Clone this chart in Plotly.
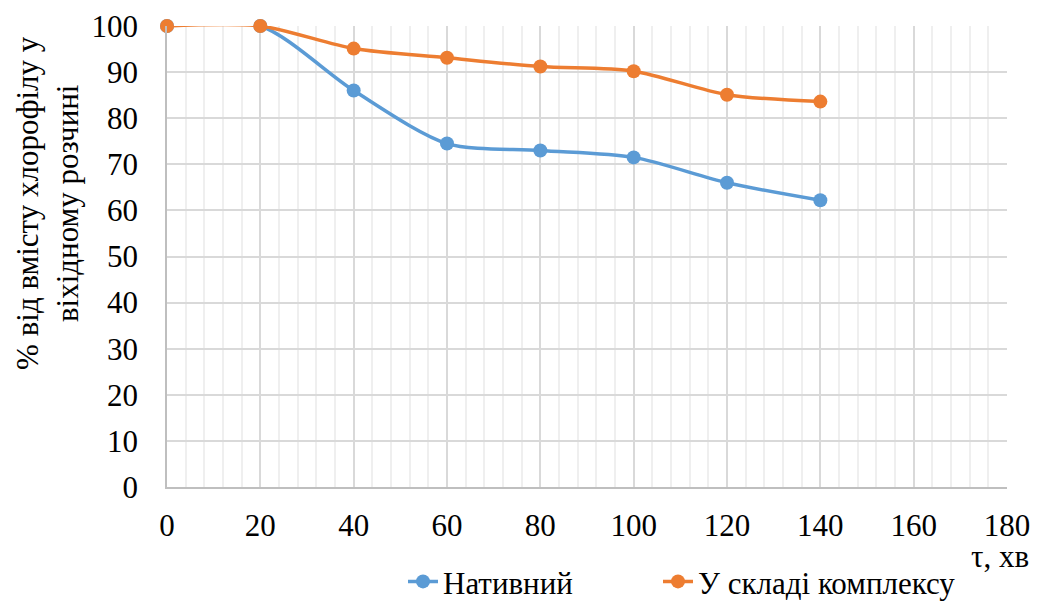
import plotly.graph_objects as go

# Time, minutes
time_min = [0, 20, 40, 60, 80, 100, 120, 140]
# Chlorophyll remaining, % of the initial solution content
native = [100, 100, 86, 74.5, 73, 71.5, 66, 62.2]
in_complex = [100, 100, 95.1, 93.1, 91.2, 90.2, 85.1, 83.6]

series_names = ["Нативний", "У складі комплексу"]
series_colors = ["#5b9bd5", "#ed7d31"]
legend_ids = ["legend", "legend2"]

FONT = "Times New Roman"
FS = 31

fig = go.Figure()
for name, vals, col, lg in zip(series_names, [native, in_complex], series_colors, legend_ids):
    fig.add_trace(go.Scatter(
        x=time_min, y=vals, name=name, mode="lines+markers",
        line=dict(color=col, width=3.5, shape="spline", smoothing=0.8),
        marker=dict(color=col, size=14),
        cliponaxis=False, legend=lg,
    ))

legend_style = dict(orientation="h", xref="container", yref="container",
                    y=0.032, yanchor="middle", xanchor="left",
                    bgcolor="rgba(0,0,0,0)",
                    font=dict(family=FONT, size=FS, color="black"))

fig.update_layout(
    template="none",
    width=1039, height=601,
    margin=dict(l=167, r=32, t=26, b=114, autoexpand=False),
    paper_bgcolor="white", plot_bgcolor="white",
    font=dict(family=FONT, size=FS, color="black"),
    showlegend=True,
    legend=dict(x=403 / 1039, **legend_style),
    legend2=dict(x=658 / 1039, **legend_style),
    xaxis=dict(
        range=[0, 180], dtick=20, tick0=0,
        showgrid=True, gridcolor="#d9d9d9", gridwidth=1.5,
        minor=dict(dtick=4, showgrid=True, gridcolor="#efefef", gridwidth=1.5),
        showline=True, linecolor="#bfbfbf", linewidth=1.5,
        ticks="", ticklabelstandoff=10, zeroline=False,
        tickfont=dict(family=FONT, size=FS, color="black"),
    ),
    yaxis=dict(
        range=[0, 100], dtick=10,
        showgrid=True, gridcolor="#d9d9d9", gridwidth=1.5,
        showline=True, linecolor="#bfbfbf", linewidth=1.5,
        ticks="", ticklabelstandoff=21, zeroline=False,
        tickfont=dict(family=FONT, size=FS, color="black"),
    ),
)

fig.add_annotation(
    text="% від вмісту хлорофілу у<br>віхідному розчині",
    xref="paper", yref="paper", x=-0.143, y=0.616,
    xanchor="center", yanchor="middle", textangle=-90,
    showarrow=False, font=dict(family=FONT, size=FS, color="black"), align="center",
)
fig.add_annotation(
    text="τ, хв", xref="paper", yref="paper", x=1.028, y=-0.1518,
    xanchor="right", yanchor="middle", showarrow=False,
    font=dict(family=FONT, size=FS, color="black"),
)

fig.write_html("out.html")
